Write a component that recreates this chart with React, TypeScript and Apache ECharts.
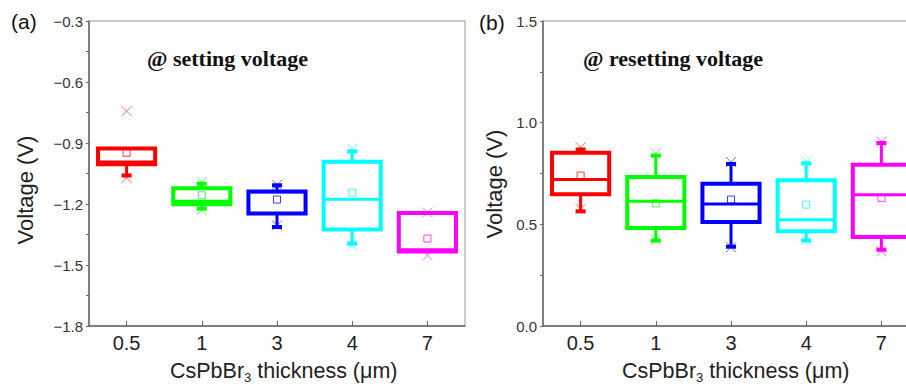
import React, { useEffect, useRef } from "react";
import * as echarts from "echarts";

const categories = ["0.5", "1", "3", "4", "7"];
const boxColors = ["#ff0000", "#00ff00", "#0000ff", "#00ffff", "#ff00ff"];

// setting voltage (left panel)
const setLow = [-1.06, -1.223, -1.313, -1.395, -1.433];
const setQ1 = [-1.005, -1.2015, -1.247, -1.325, -1.433];
const setMedian = [-0.993, -1.187, -1.14, -1.177, -1.425];
const setQ3 = [-0.927, -1.123, -1.138, -0.992, -1.244];
const setHigh = [-0.927, -1.1, -1.108, -0.941, -1.244];
const setMean = [-0.948, -1.157, -1.178, -1.144, -1.37];
const setXHigh = [-0.743, -1.092, -1.105, -0.928, -1.242];
const setXLow = [-1.072, -1.231, -1.305, -1.403, -1.452];

// resetting voltage (right panel)
const resLow = [0.564, 0.42, 0.39, 0.42, 0.375];
const resQ1 = [0.648, 0.482, 0.512, 0.466, 0.438];
const resMedian = [0.72, 0.613, 0.6, 0.522, 0.645];
const resQ3 = [0.852, 0.733, 0.7, 0.717, 0.793];
const resHigh = [0.868, 0.838, 0.797, 0.8, 0.9];
const resMean = [0.74, 0.603, 0.622, 0.597, 0.63];
const resXHigh = [0.879, 0.85, 0.806, 0.81, 0.907];
const resXLow = [0.576, 0.423, 0.387, 0.42, 0.367];

const leftTicks = { min: -1.8, max: -0.3, interval: 0.3 };
const rightTicks = { min: 0, max: 1.5, interval: 0.5 };

const FONT = "Liberation Sans, Arial, sans-serif";
const X_TITLE = "{a|CsPbBr}{s|3}{a| thickness (\u03bcm)}";
const Y_TITLE = "Voltage (V)";

function buildData(low: number[], q1: number[], med: number[], q3: number[], high: number[], mean: number[], xh: number[], xl: number[]) {
  return categories.map((_, i) => [i, low[i], q1[i], med[i], q3[i], high[i], mean[i], xh[i], xl[i]]);
}

function renderBox(params: any, api: any) {
  const i = api.value(0);
  const color = boxColors[i % boxColors.length];
  const low = api.value(1), q1 = api.value(2), med = api.value(3), q3 = api.value(4), high = api.value(5);
  const mean = api.value(6), xh = api.value(7), xl = api.value(8);
  const band = api.size([1, 0])[0];
  const bw = band * 0.76;
  const cx = api.coord([i, q3])[0];
  const y = (v: number) => api.coord([i, v])[1];
  const children: any[] = [];
  const ym = y(mean);
  children.push({ type: "rect", shape: { x: cx - 3.5, y: ym - 3.5, width: 7, height: 7 }, style: { fill: "none", stroke: color, lineWidth: 1, opacity: 0.75 } });
  const cross = (v: number) => {
    const yy = y(v);
    const s = 5;
    children.push({ type: "line", shape: { x1: cx - s, y1: yy - s, x2: cx + s, y2: yy + s }, style: { stroke: color, lineWidth: 1, opacity: 0.55 } });
    children.push({ type: "line", shape: { x1: cx - s, y1: yy + s, x2: cx + s, y2: yy - s }, style: { stroke: color, lineWidth: 1, opacity: 0.55 } });
  };
  if (Math.abs(high - q3) > 0.004) {
    children.push({ type: "line", shape: { x1: cx, y1: y(q3), x2: cx, y2: y(high) }, style: { stroke: color, lineWidth: 3 } });
    children.push({ type: "line", shape: { x1: cx - 5, y1: y(high), x2: cx + 5, y2: y(high) }, style: { stroke: color, lineWidth: 4 } });
  }
  if (Math.abs(low - q1) > 0.004) {
    children.push({ type: "line", shape: { x1: cx, y1: y(q1), x2: cx, y2: y(low) }, style: { stroke: color, lineWidth: 3 } });
    children.push({ type: "line", shape: { x1: cx - 5, y1: y(low), x2: cx + 5, y2: y(low) }, style: { stroke: color, lineWidth: 4 } });
  }
  const yq3 = y(q3), yq1 = y(q1);
  children.push({ type: "rect", shape: { x: cx - bw / 2, y: yq3, width: bw, height: yq1 - yq3 }, style: { fill: "none", stroke: color, lineWidth: 4 } });
  children.push({ type: "line", shape: { x1: cx - bw / 2, y1: y(med), x2: cx + bw / 2, y2: y(med) }, style: { stroke: color, lineWidth: 3 } });
  cross(xh);
  cross(xl);
  return { type: "group", children };
}

function yAxisFor(gridIndex: number, t: { min: number; max: number; interval: number }) {
  return {
    type: "value",
    gridIndex,
    min: t.min,
    max: t.max,
    interval: t.interval,
    axisLine: { show: true, lineStyle: { color: "#666", width: 1.5 } },
    axisTick: { show: true, inside: false, length: 3, lineStyle: { color: "#666" } },
    minorTick: { show: true, splitNumber: 2, length: 3, lineStyle: { color: "#666" } },
    splitLine: { show: false },
    axisLabel: {
      fontFamily: FONT,
      fontSize: 15,
      color: "#333",
      margin: 6,
      formatter: (v: number) => v.toFixed(1).replace("-", "\u2212"),
    },
  };
}

function xAxisFor(gridIndex: number) {
  return {
    type: "category",
    gridIndex,
    data: categories,
    boundaryGap: true,
    axisLine: { show: true, lineStyle: { color: "#666", width: 1.5 } },
    axisTick: { show: true, alignWithLabel: true, inside: true, length: 5, lineStyle: { color: "#666" } },
    axisLabel: { fontFamily: FONT, fontSize: 20, color: "#222", margin: 7 },
    splitLine: { show: false },
  };
}

const xTitleRich = {
  a: { fontFamily: FONT, fontSize: 21.5, fill: "#222", lineHeight: 22, verticalAlign: "bottom" },
  s: { fontFamily: FONT, fontSize: 13, fill: "#222", lineHeight: 12, verticalAlign: "bottom", padding: [0, 0, -2, 0] },
};

function xTitle(left: number) {
  return { type: "text", x: left, y: 371, style: { text: X_TITLE, rich: xTitleRich, verticalAlign: "middle", align: "left" } };
}

function yTitle(cx: number, cy: number) {
  return {
    type: "text",
    x: cx,
    y: cy,
    rotation: Math.PI / 2,
    style: { text: Y_TITLE, font: `22px ${FONT}`, fill: "#222", align: "center", verticalAlign: "middle" },
  };
}

export default function App() {
  const ref = useRef<HTMLDivElement>(null);
  useEffect(() => {
    if (!ref.current) return;
    const chart = echarts.init(ref.current, undefined, { renderer: "svg" });
    chart.setOption({
      animation: false,
      backgroundColor: "#fff",
      grid: [
        { left: 89, top: 21, width: 376, height: 305, show: true, borderColor: "#999", borderWidth: 1, backgroundColor: "transparent" },
        { left: 543, top: 21, width: 376, height: 305, show: true, borderColor: "#999", borderWidth: 1, backgroundColor: "transparent" },
      ],
      xAxis: [xAxisFor(0), xAxisFor(1)],
      yAxis: [yAxisFor(0, leftTicks), yAxisFor(1, rightTicks)],
      series: [
        {
          type: "custom",
          xAxisIndex: 0,
          yAxisIndex: 0,
          renderItem: renderBox,
          encode: { x: 0, y: [1, 2, 3, 4, 5, 6, 7, 8] },
          data: buildData(setLow, setQ1, setMedian, setQ3, setHigh, setMean, setXHigh, setXLow),
          clip: false,
        },
        {
          type: "custom",
          xAxisIndex: 1,
          yAxisIndex: 1,
          renderItem: renderBox,
          encode: { x: 0, y: [1, 2, 3, 4, 5, 6, 7, 8] },
          data: buildData(resLow, resQ1, resMedian, resQ3, resHigh, resMean, resXHigh, resXLow),
          clip: false,
        },
      ],
      graphic: [
        { type: "text", left: 11, top: 11, style: { text: "(a)", font: `21px ${FONT}`, fill: "#111" } },
        { type: "text", left: 479, top: 12, style: { text: "(b)", font: `21px ${FONT}`, fill: "#111" } },
        { type: "text", left: 147, top: 47, style: { text: "@ setting voltage", font: `bold 22px "Liberation Serif", "Times New Roman", serif`, fill: "#111" } },
        { type: "text", left: 583, top: 47, style: { text: "@ resetting voltage", font: `bold 22px "Liberation Serif", "Times New Roman", serif`, fill: "#111" } },
        xTitle(170),
        xTitle(622),
        yTitle(25, 190),
        yTitle(494, 184),
      ],
    });
    return () => chart.dispose();
  }, []);
  return (
    <div style={{ position: "absolute", left: 0, top: 0, width: 906, height: 387, overflow: "hidden" }}>
      <div ref={ref} style={{ width: 940, height: 387 }} />
    </div>
  );
}
